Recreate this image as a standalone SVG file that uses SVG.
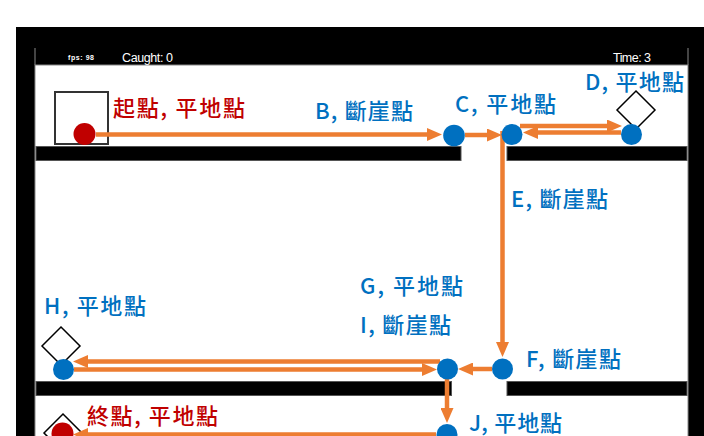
<svg xmlns="http://www.w3.org/2000/svg" width="704" height="436" viewBox="0 0 704 436">
<defs>
<style>
.lbl{font-family:"Noto Sans CJK TC","Noto Sans CJK SC",sans-serif;font-size:22px;font-weight:500;}
.blue{fill:#0070c0;}
.red{fill:#c00000;}
.hud{font-family:"Liberation Sans",Arial,sans-serif;fill:#ffffff;}
.bar{fill:#000;stroke:#555;stroke-width:1;}
.dia{fill:#fff;stroke:#000;stroke-width:1.5;}
.nb{fill:#0070c0;}
.nr{fill:#c00000;}
.edge{fill:none;stroke:#ed7d31;stroke-width:4.5;marker-end:url(#ah);}
</style>
<marker id="ah" markerUnits="userSpaceOnUse" markerWidth="15" markerHeight="13" refX="3" refY="6.5" orient="auto">
<path d="M0,0 L15,6.5 L0,13 z" fill="#ed7d31"/>
</marker>
</defs>
<rect x="0" y="0" width="704" height="436" fill="#fff"/>
<g id="frame">
<rect x="16" y="27" width="688" height="409" fill="#000"/>
<rect x="35" y="65" width="653" height="380" fill="#fff" stroke="#888" stroke-width="1"/>
<line x1="35" y1="48" x2="35" y2="65" stroke="#888" stroke-width="1"/>
<line x1="688" y1="48" x2="688" y2="65" stroke="#888" stroke-width="1"/>
<text class="hud" x="68" y="60" font-size="7" font-weight="bold" textLength="26">fps: 98</text>
<text class="hud" x="122" y="62" font-size="12.5" textLength="51">Caught: 0</text>
<text class="hud" x="613" y="62" font-size="12.5" textLength="38">Time: 3</text>
</g>
<g id="platforms">
<rect class="bar" x="36" y="146.5" width="425" height="14"/>
<rect class="bar" x="507" y="146.5" width="180" height="14"/>
<rect class="bar" x="36" y="381.5" width="415.5" height="14"/>
<rect class="bar" x="507" y="381.5" width="180" height="14"/>
</g>
<g id="start-box">
<rect x="55" y="92" width="53" height="52" fill="#fff" stroke="#333" stroke-width="2"/>
</g>
<g id="diamonds">
<polygon class="dia" points="636,91 655,110 636,129 617,110"/>
<polygon class="dia" points="61,327 80,346 61,365 42,346"/>
<polygon class="dia" points="63,414 82,433 63,452 44,433"/>
</g>
<g id="connectors">
<path class="edge" d="M96,134.5 H430"/>
<path class="edge" d="M465,135 H490"/>
<path class="edge" d="M520,126 H610"/>
<path class="edge" d="M621,132.5 H535"/>
<path class="edge" d="M502.5,131 V345"/>
<path class="edge" d="M492,369 H470"/>
<path class="edge" d="M440,361.5 H85"/>
<path class="edge" d="M74,369.5 H425"/>
<path class="edge" d="M447,379 V411"/>
<path class="edge" d="M436,434.5 H85"/>
</g>
<g id="node-start">
<circle class="nr" cx="84.5" cy="134" r="11"/>
<text class="lbl red" x="113" y="116" textLength="132">起點, 平地點</text>
</g>
<g id="node-B">
<circle class="nb" cx="454" cy="135.5" r="10.8"/>
<text class="lbl blue" x="315" y="119" textLength="98">B, 斷崖點</text>
</g>
<g id="node-C">
<circle class="nb" cx="512" cy="134.5" r="10.5"/>
<text class="lbl blue" x="455" y="112" textLength="101">C, 平地點</text>
</g>
<g id="node-D">
<circle class="nb" cx="631.5" cy="134.5" r="10.5"/>
<text class="lbl blue" x="585" y="90" textLength="99">D, 平地點</text>
</g>
<g id="node-E">
<text class="lbl blue" x="511" y="207" textLength="97">E, 斷崖點</text>
</g>
<g id="node-F">
<circle class="nb" cx="502.5" cy="369" r="10.5"/>
<text class="lbl blue" x="526" y="367" textLength="95">F, 斷崖點</text>
</g>
<g id="node-G-I">
<circle class="nb" cx="447.5" cy="369" r="10.5"/>
<text class="lbl blue" x="360" y="294" textLength="103">G, 平地點</text>
<text class="lbl blue" x="360" y="333" textLength="91">I, 斷崖點</text>
</g>
<g id="node-H">
<circle class="nb" cx="63.5" cy="369.5" r="10.5"/>
<text class="lbl blue" x="44" y="314" textLength="102">H, 平地點</text>
</g>
<g id="node-J">
<circle class="nb" cx="447" cy="434.5" r="10.5"/>
<text class="lbl blue" x="469" y="431" textLength="93">J, 平地點</text>
</g>
<g id="node-end">
<circle class="nr" cx="62.5" cy="433.5" r="11"/>
<text class="lbl red" x="87" y="424" textLength="131">終點, 平地點</text>
</g>
</svg>
